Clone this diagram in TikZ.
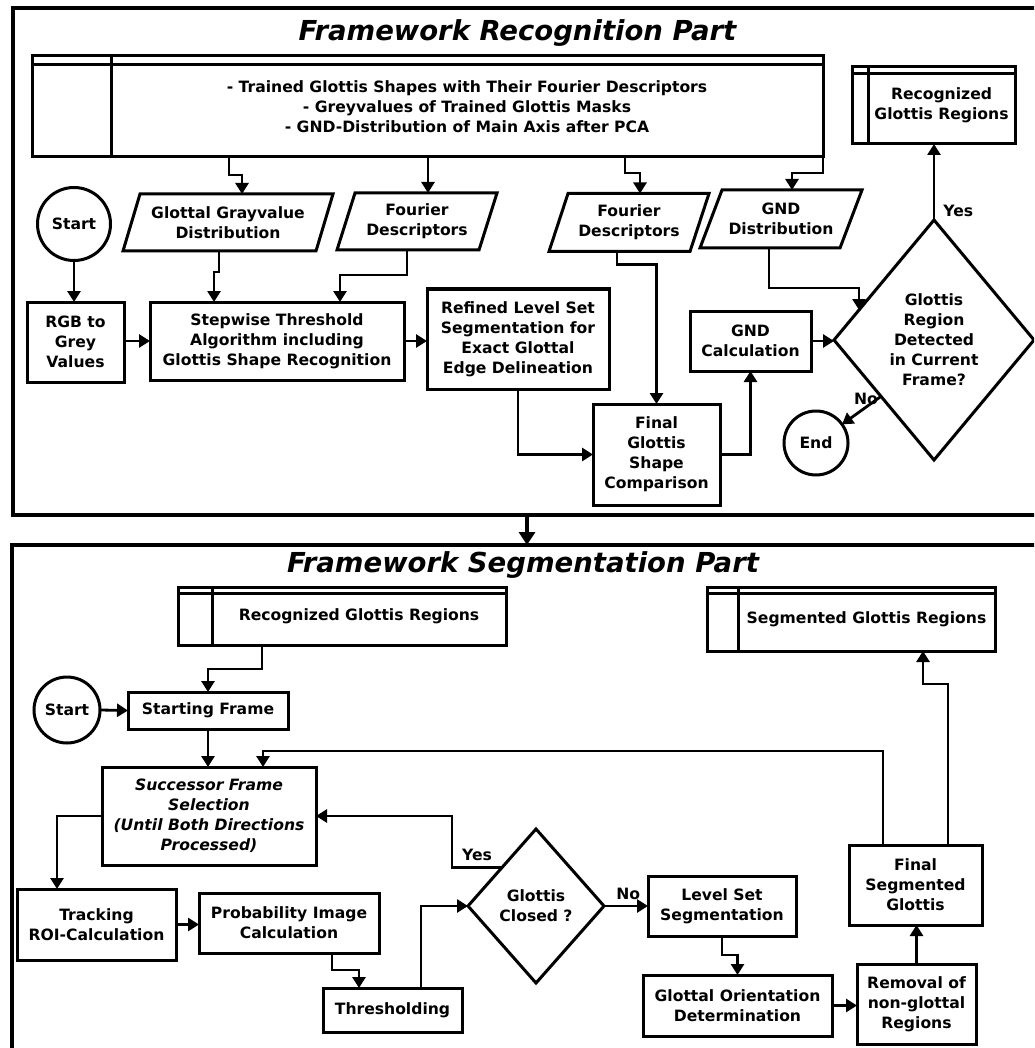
\documentclass[tikz,border=0pt]{standalone}
\usepackage{fontspec}
\setmainfont{DejaVu Sans}
\usetikzlibrary{arrows.meta,shapes.geometric,calc}
\newcommand\bxf{\bfseries\fontsize{15.6}{20}\selectfont}
\newcommand\storelines[3]{%
  \draw[lw] ($(#1.north west)+(0,#3)$) -- ($(#1.north east)+(0,#3)$);
  \draw[lw] ($(#1.north west)+(#2,0)$) -- ($(#1.south west)+(#2,0)$);}
\newcommand\paralines[2]{%
  \draw[lw] ($(#1.north west)+(#2,0)$) -- (#1.north east) -- ($(#1.south east)-(#2,0)$) -- (#1.south west) -- cycle;}
\begin{document}
\begin{tikzpicture}[x=1pt,y=-1pt,
  lw/.style={line width=3pt},
  fr/.style={draw, line width=4.2pt, rectangle, inner sep=0, outer sep=0},
  box/.style={draw, lw, rectangle, inner sep=0, outer sep=0, align=center, font=\bxf},
  store/.style={draw, lw, rectangle, inner sep=0, outer sep=0, font=\bxf},
  para/.style={rectangle, inner sep=0, outer sep=0, align=center, font=\bxf},
  term/.style={draw, lw, circle, inner sep=0, outer sep=0, font=\bxf},
  dec/.style={draw, lw, diamond, inner sep=0, outer sep=0, align=center, font=\bxf},
  arr/.style={line width=2.8pt, -{Triangle[length=11pt,width=13pt]}},
  bigarr/.style={line width=4pt, -{Triangle[length=13pt,width=16pt]}},
  lab/.style={font=\bxf, inner sep=1pt},
  ttl/.style={font=\bfseries\itshape\fontsize{27.5}{32}\selectfont, inner sep=0}
]
\clip (0,0) rectangle (1034,1048);
\fill[white] (0,0) rectangle (1034,1048);

% ---------- frames ----------
\node[fr, minimum width=1040, minimum height=507] (frA) at (533,261.5) {};
\node[fr, minimum width=1040, minimum height=525] (frB) at (532,807.5) {};
\node[ttl, anchor=base] (t1) at (517.5,41) {Framework Recognition Part};
\node[ttl, anchor=base] (t2) at (523,572) {Framework Segmentation Part};
\draw[bigarr] ([xshift=-6]frA.south) -- ([xshift=-6]frA.south |- frB.north);

% ---------- recognition part ----------
\node[store, minimum width=791, minimum height=101] (data) at (427.5,106.5)
  {\hspace*{79pt}\raisebox{-4pt}{\parbox{712pt}{\centering
   - Trained Glottis Shapes with Their Fourier Descriptors\\
   - Greyvalues of Trained Glottis Masks\\
   - GND-Distribution of Main Axis after PCA}}};
\storelines{data}{79}{9}

\node[para, minimum width=210, minimum height=57] (gg) at (228,222.5) {Glottal Grayvalue\\Distribution};
\paralines{gg}{17}
\node[para, minimum width=160, minimum height=57] (fd1) at (417,221.5) {Fourier\\Descriptors};
\paralines{fd1}{18}
\node[para, minimum width=160, minimum height=58] (fd2) at (629,222.5) {Fourier\\Descriptors};
\paralines{fd2}{19}
\node[para, minimum width=162, minimum height=58] (gndd) at (781,219) {GND\\Distribution};
\paralines{gndd}{22}

\node[term, minimum size=73] (start1) at (74,224) {Start};
\node[box, minimum width=97, minimum height=80] (rgb) at (75.5,342) {RGB to\\Grey\\Values};
\node[box, minimum width=254, minimum height=78] (step) at (277,341) {Stepwise Threshold\\Algorithm including\\Glottis Shape Recognition};
\node[box, minimum width=182, minimum height=100] (refined) at (518,339) {Refined Level Set\\Segmentation for\\Exact Glottal\\Edge Delineation};
\node[box, minimum width=127, minimum height=101] (final) at (656.5,454.5) {Final\\Glottis\\Shape\\Comparison};
\node[box, minimum width=121, minimum height=60] (gndc) at (750.5,341) {GND\\Calculation};
\node[dec, minimum width=200, minimum height=240] (d1) at (934,340) {Glottis\\Region\\Detected\\in Current\\Frame?};
\node[store, minimum width=163, minimum height=77] (recog1) at (933.5,105.5)
  {\hspace*{16pt}\raisebox{-3.5pt}{\parbox{147pt}{\centering Recognized\\Glottis Regions}}};
\storelines{recog1}{16}{7}
\node[term, minimum size=64] (end) at (816,443) {End};

\draw[arr] ([xshift=-198.5]data.south) -- ++(0,18) -| ([xshift=14]gg.north);
\draw[arr] ([xshift=0.5]data.south) -- ([xshift=0.5]data.south |- fd1.north);
\draw[arr] ([xshift=197.5]data.south) -- ++(0,16) -| ([xshift=11]fd2.north);
\draw[arr] (data.south east) -- ++(0,16) -| ([xshift=11]gndd.north);
\draw[arr] (start1.south) -- (start1.south |- rgb.north);
\draw[arr] ([xshift=-9]gg.south) -- ++(0,21) -| ([xshift=-63]step.north);
\draw[arr] ([xshift=-10]fd1.south) -- ++(0,25) -| ([xshift=63]step.north);
\draw[arr] (rgb.east |- step.west) -- (step.west);
\draw[arr] (step.east) -- (step.east -| refined.west);
\draw[arr] (refined.south) |- (final.west);
\draw[arr] ([xshift=-12]fd2.south) -- ++(0,13) -| (final.north);
\draw[arr] (final.east) -| (gndc.south);
\draw[arr] (gndc.east) -- (gndc.east -| d1.west);
\draw[arr] ([xshift=-12]gndd.south) -- ++(0,40) -| ($(d1.west)!0.25!(d1.north)$);
\draw[arr] (d1.north) -- node[lab, pos=0.12, anchor=west, xshift=7pt] (yes1) {Yes} (d1.north |- recog1.south);
\coordinate (d1no) at ($(d1.west)!0.47!(d1.south)$);
\draw[arr] (d1no) -- (end);
\node[lab] (no1) at ($(d1no)+(-15,3)$) {No};

% ---------- segmentation part ----------
\node[store, minimum width=328, minimum height=58] (recog2) at (342,616)
  {\hspace*{34pt}\raisebox{-3pt}{\parbox{294pt}{\centering Recognized Glottis Regions}}};
\storelines{recog2}{34}{6}
\node[store, minimum width=288, minimum height=64] (segm) at (851,619)
  {\hspace*{31pt}\raisebox{-3pt}{\parbox{257pt}{\centering Segmented Glottis Regions}}};
\storelines{segm}{31}{6}

\node[term, minimum size=66] (start2) at (67,710) {Start};
\node[box, minimum width=160, minimum height=37] (sframe) at (208,710.5) {Starting Frame};
\node[box, minimum width=214, minimum height=98, font=\bxf\itshape] (succ) at (209,816) {Successor Frame\\Selection\\(Until Both Directions\\Processed)};
\node[box, minimum width=159, minimum height=71] (track) at (96.5,924.5) {Tracking\\ROI-Calculation};
\node[box, minimum width=180, minimum height=60] (prob) at (289,923) {Probability Image\\Calculation};
\node[box, minimum width=139, minimum height=44] (thr) at (392.5,1010) {Thresholding};
\node[dec, minimum width=136, minimum height=154] (d2) at (536,906) {Glottis\\Closed ?};
\node[box, minimum width=148, minimum height=60] (lset) at (722,906) {Level Set\\Segmentation};
\node[box, minimum width=189, minimum height=61] (gorient) at (737.5,1005.5) {Glottal Orientation\\Determination};
\node[box, minimum width=119, minimum height=80] (removal) at (916.5,1004) {Removal of\\non-glottal\\Regions};
\node[box, minimum width=133, minimum height=80] (fseg) at (915.5,885) {Final\\Segmented\\Glottis};

\draw[arr] ([xshift=-80]recog2.south) -- ++(0,24) -| (sframe.north);
\draw[arr] (start2.east) -- (sframe.west);
\draw[arr] (sframe.south) -- (sframe.south |- succ.north);
\draw[arr] ([xshift=-32.5]fseg.north) -- ++(0,-94) -| ([xshift=54]succ.north);
\draw[arr] (succ.west) -| ([xshift=-39.5]track.north);
\draw[arr] (track.east) -- (track.east -| prob.west);
\draw[arr] ([xshift=43]prob.south) -- ++(0,17) -| ([xshift=-33.5]thr.north);
\draw[arr] ([xshift=28.5]thr.north) |- (d2.west);
\draw[arr] ($(d2.west)!0.5!(d2.north)$) -- node[lab, above=4pt] (yes2) {Yes} ++(-50,0) |- (succ.east);
\draw[arr] (d2.east) -- node[lab, pos=0.55, above=4pt] (no2) {No} (d2.east -| lset.west);
\draw[arr] (lset.south) -- ++(0,19) -| (gorient.north);
\draw[arr] (gorient.east) -- (gorient.east -| removal.west);
\draw[arr] (removal.north) -- (removal.north |- fseg.south);
\draw[arr] ([xshift=32.5]fseg.north) -- ++(0,-161) -| ([xshift=72]segm.south);
\end{tikzpicture}
\end{document}
